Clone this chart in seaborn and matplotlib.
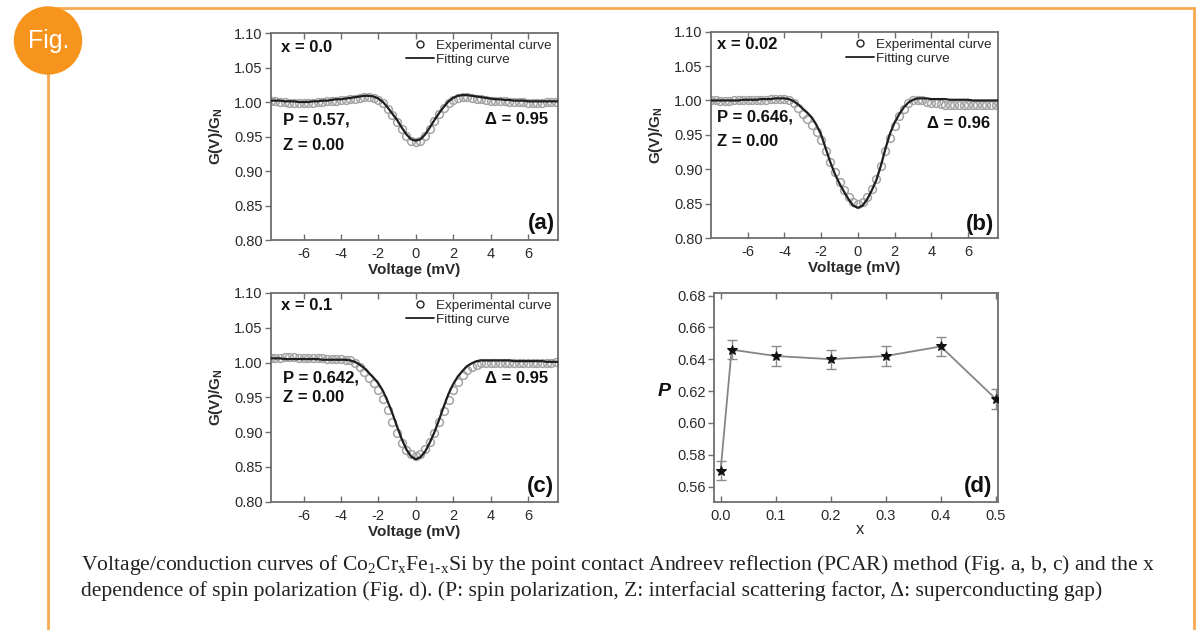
import numpy as np
import matplotlib
matplotlib.use("Agg")
import matplotlib.pyplot as plt
import seaborn as sns
from matplotlib.lines import Line2D
from matplotlib.patches import Circle

sns.set_theme(style="ticks")
plt.rcParams['font.family'] = ['Liberation Sans', 'DejaVu Sans']
plt.rcParams['mathtext.default'] = 'regular'
plt.rcParams['axes.unicode_minus'] = False

# bias voltage grid (mV), -8.0 ... 7.75
voltage = np.arange(-8.0, 7.76, 0.25)

# panel (a): x = 0.0
exp_a = [1.001, 1.001, 1.001, 1.000, 1.000, 0.999, 0.999, 0.999,
         0.999, 0.999, 0.999, 1.000, 1.000, 1.001, 1.001, 1.002,
         1.003, 1.003, 1.004, 1.005, 1.006, 1.007, 1.007, 1.006,
         1.003, 0.998, 0.990, 0.981, 0.971, 0.961, 0.951, 0.944,
         0.942, 0.944, 0.951, 0.961, 0.972, 0.982, 0.991, 0.998,
         1.003, 1.006, 1.007, 1.007, 1.006, 1.005, 1.004, 1.003,
         1.002, 1.002, 1.001, 1.001, 1.000, 1.000, 1.000, 1.000,
         0.999, 0.999, 0.999, 0.999, 1.000, 1.000, 1.000, 1.000]
fit_a = [1.002, 1.002, 1.002, 1.002, 1.001, 1.001, 1.001, 1.000,
         1.000, 1.000, 1.001, 1.001, 1.002, 1.002, 1.003, 1.004,
         1.004, 1.005, 1.006, 1.007, 1.008, 1.009, 1.009, 1.008,
         1.005, 1.000, 0.992, 0.983, 0.974, 0.963, 0.953, 0.946,
         0.944, 0.946, 0.953, 0.963, 0.974, 0.984, 0.993, 1.001,
         1.006, 1.009, 1.010, 1.010, 1.009, 1.008, 1.007, 1.006,
         1.005, 1.004, 1.004, 1.003, 1.003, 1.002, 1.002, 1.002,
         1.001, 1.001, 1.001, 1.001, 1.001, 1.001, 1.001, 1.001]

# panel (b): x = 0.02
exp_b = [1.000, 1.000, 0.999, 0.999, 0.999, 1.000, 1.000, 1.000,
         1.000, 1.001, 1.001, 1.001, 1.001, 1.002, 1.002, 1.002,
         1.002, 1.000, 0.996, 0.989, 0.981, 0.973, 0.964, 0.954,
         0.942, 0.927, 0.911, 0.896, 0.882, 0.870, 0.860, 0.853,
         0.850, 0.852, 0.859, 0.871, 0.886, 0.905, 0.926, 0.946,
         0.963, 0.977, 0.988, 0.996, 1.000, 1.001, 1.000, 0.998,
         0.997, 0.996, 0.995, 0.994, 0.994, 0.993, 0.993, 0.993,
         0.993, 0.993, 0.993, 0.993, 0.993, 0.993, 0.993, 0.993]
fit_b = [1.000, 1.000, 1.000, 1.000, 1.000, 1.000, 1.000, 1.001,
         1.001, 1.001, 1.001, 1.002, 1.002, 1.002, 1.003, 1.003,
         1.003, 1.002, 0.999, 0.994, 0.988, 0.982, 0.975, 0.964,
         0.950, 0.930, 0.910, 0.893, 0.879, 0.867, 0.856, 0.847,
         0.844, 0.847, 0.856, 0.869, 0.884, 0.905, 0.930, 0.952,
         0.968, 0.980, 0.990, 0.997, 1.001, 1.003, 1.003, 1.003,
         1.002, 1.002, 1.002, 1.002, 1.001, 1.001, 1.001, 1.001,
         1.001, 1.000, 1.000, 1.000, 1.000, 1.000, 1.000, 1.000]

# panel (c): x = 0.1
exp_c = [1.007, 1.007, 1.007, 1.007, 1.008, 1.008, 1.008, 1.007,
         1.007, 1.007, 1.006, 1.006, 1.006, 1.005, 1.005, 1.005,
         1.005, 1.004, 1.003, 0.999, 0.993, 0.986, 0.978, 0.970,
         0.960, 0.947, 0.932, 0.915, 0.899, 0.885, 0.874, 0.868,
         0.866, 0.868, 0.875, 0.886, 0.899, 0.914, 0.930, 0.946,
         0.960, 0.972, 0.982, 0.989, 0.994, 0.997, 0.999, 1.000,
         1.000, 1.000, 1.000, 1.000, 1.000, 0.999, 0.999, 0.999,
         0.999, 0.999, 1.000, 1.000, 1.000, 1.000, 1.001, 1.001]
fit_c = [1.006, 1.006, 1.006, 1.006, 1.005, 1.005, 1.005, 1.005,
         1.005, 1.005, 1.005, 1.005, 1.004, 1.004, 1.004, 1.004,
         1.004, 1.004, 1.003, 1.001, 0.997, 0.992, 0.985, 0.978,
         0.970, 0.959, 0.944, 0.927, 0.908, 0.890, 0.875, 0.865,
         0.861, 0.864, 0.872, 0.885, 0.900, 0.918, 0.937, 0.955,
         0.969, 0.980, 0.988, 0.995, 0.999, 1.002, 1.003, 1.003,
         1.003, 1.003, 1.003, 1.003, 1.003, 1.002, 1.002, 1.002,
         1.002, 1.002, 1.002, 1.002, 1.001, 1.001, 1.001, 1.001]

# panel (d): spin polarization vs x
x_frac = [0.0, 0.02, 0.1, 0.2, 0.3, 0.4, 0.5]
p_val = [0.570, 0.646, 0.642, 0.640, 0.642, 0.648, 0.615]
p_err = [0.006, 0.006, 0.006, 0.006, 0.006, 0.006, 0.006]

v_ticks = [-6, -4, -2, 0, 2, 4, 6]
g_ticks = [0.80, 0.85, 0.90, 0.95, 1.00, 1.05, 1.10]
x_ticks = [0.0, 0.1, 0.2, 0.3, 0.4, 0.5]
p_ticks = [0.56, 0.58, 0.60, 0.62, 0.64, 0.66, 0.68]

SPINE = '#6e6e6e'
TXT = '#2a2a2a'

fig = plt.figure(figsize=(12.01, 6.30), dpi=100)
fig.patch.set_facecolor('white')


def style_axes(ax):
    ax.set_facecolor('white')
    for s in ax.spines.values():
        s.set_visible(True)
        s.set_color(SPINE)
        s.set_linewidth(1.3)
    ax.tick_params(axis='x', direction='in', top=True, length=4, width=1,
                   color=SPINE, labelsize=10.5, labelcolor=TXT, pad=5)
    ax.tick_params(axis='y', direction='out', length=4, width=1,
                   color=SPINE, labelsize=10.5, labelcolor=TXT, pad=2)
    ax.grid(False)


def curve_panel(rect, exp, fit, xlim, tag, xtxt, ptxt, dtxt, pos):
    ax = fig.add_axes(rect)
    sns.lineplot(x=voltage, y=exp, ax=ax, marker='o', linestyle='none',
                 mfc='none', mec='#a4a4a4', ms=5.6, mew=1.1, zorder=2)
    sns.lineplot(x=voltage, y=fit, ax=ax, color='#1e1e1e', lw=1.6, zorder=3)
    ax.set_xlim(*xlim)
    ax.set_ylim(0.80, 1.10)
    ax.set_xticks(v_ticks)
    ax.set_yticks(g_ticks)
    ax.set_yticklabels([f'{t:.2f}' for t in g_ticks])
    style_axes(ax)
    ax.set_xlabel('Voltage (mV)', fontsize=11, fontweight='bold', color=TXT)
    ax.xaxis.set_label_coords(0.5, -0.113)
    ax.set_ylabel('G(V)/G$_N$', fontsize=11, fontweight='bold', color=TXT)
    ax.yaxis.set_label_coords(-0.16, 0.5)
    handles = [Line2D([], [], marker='o', ls='none', mfc='none', mec='#222',
                      ms=5, mew=1.0),
               Line2D([], [], color='#1e1e1e', lw=1.3)]
    ax.legend(handles, ['Experimental curve', 'Fitting curve'],
              loc='upper right', bbox_to_anchor=(1.0, 1.0), frameon=False,
              fontsize=9.7, handlelength=2.1, handletextpad=0.1,
              labelspacing=0.1, borderaxespad=0.1)
    bold = dict(fontsize=12, fontweight='bold', color='#111',
                transform=ax.transAxes, va='center')
    ax.text(pos[0], pos[1], xtxt, ha='left', **bold)
    ax.text(pos[2], pos[3], ptxt, ha='left', **bold)
    ax.text(pos[2], pos[4], 'Z = 0.00', ha='left', **bold)
    ax.text(pos[5], pos[6], dtxt, ha='right', **bold)
    ax.text(pos[7], pos[8], tag, ha='right', va='center', fontsize=16,
            fontweight='bold', color='#111', transform=ax.transAxes)
    return ax


curve_panel([0.2256, 0.619, 0.239, 0.3286], exp_a, fit_a, (-7.74, 7.6), '(a)',
            'x = 0.0', 'P = 0.57,', '\u0394 = 0.95',
            (0.035, 0.932, 0.042, 0.58, 0.459, 0.965, 0.58, 0.99, 0.082))
curve_panel([0.592, 0.6222, 0.239, 0.3275], exp_b, fit_b, (-8.0, 7.63), '(b)',
            'x = 0.02', 'P = 0.646,', '\u0394 = 0.96',
            (0.021, 0.937, 0.021, 0.585, 0.47, 0.972, 0.553, 0.985, 0.065))
curve_panel([0.2256, 0.2037, 0.239, 0.3313], exp_c, fit_c, (-7.74, 7.6), '(c)',
            'x = 0.1', 'P = 0.642,', '\u0394 = 0.95',
            (0.035, 0.942, 0.042, 0.593, 0.497, 0.965, 0.588, 0.985, 0.075))

# panel (d)
axd = fig.add_axes([0.5945, 0.2037, 0.2365, 0.331])
sns.lineplot(x=x_frac, y=p_val, ax=axd, color='#858585', lw=1.3, marker='*',
             ms=7, mfc='#111', mec='#111', zorder=3)
axd.errorbar(x_frac, p_val, yerr=p_err, fmt='none', ecolor='#8c8c8c',
             elinewidth=1.0, capsize=3.5, capthick=1.0, zorder=2)
axd.set_xlim(-0.012, 0.504)
axd.set_ylim(0.5505, 0.6815)
axd.set_xticks(x_ticks)
axd.set_xticklabels([f'{t:.1f}' for t in x_ticks])
axd.set_yticks(p_ticks)
axd.set_yticklabels([f'{t:.2f}' for t in p_ticks])
style_axes(axd)
axd.set_xlabel('x', fontsize=12, color=TXT)
axd.xaxis.set_label_coords(0.514, -0.098)
axd.set_ylabel('P', fontsize=14, fontweight='bold', fontstyle='italic',
               rotation=0, color='#111', va='center', ha='center')
axd.yaxis.set_label_coords(-0.175, 0.53)
axd.text(0.98, 0.075, '(d)', ha='right', va='center', fontsize=16,
         fontweight='bold', color='#111', transform=axd.transAxes)

# frame, badge and caption in pixel coordinates
deco = fig.add_axes([0, 0, 1, 1], zorder=-1)
deco.set_xlim(0, 1201)
deco.set_ylim(630, 0)
deco.axis('off')
ORANGE = '#f7941d'
LINE_OR = '#f8a94f'
deco.plot([48, 1194], [8, 8], color=LINE_OR, lw=2)
deco.plot([1194, 1194], [8, 630], color=LINE_OR, lw=2)
deco.plot([48, 48], [40, 630], color=LINE_OR, lw=2)
deco.add_patch(Circle((48, 40.5), 33.5, color=ORANGE, zorder=5))
deco.text(49, 41, 'Fig.', color='white', fontsize=18, ha='center',
          va='center', zorder=6)

cap_kw = dict(fontfamily='Liberation Serif', fontsize=15.6, color='#222',
              ha='left', va='center')
deco.text(81, 565, 'Voltage/conduction curves of Co$_2$Cr$_x$Fe$_{1\\text{-}x}$Si '
          'by the point contact Andreev reflection (PCAR) method '
          '(Fig. a, b, c) and the x', **cap_kw)
deco.text(81, 591, 'dependence of spin polarization (Fig. d). (P: spin '
          'polarization, Z: interfacial scattering factor, \u0394: '
          'superconducting gap)', **cap_kw)

fig.savefig('out.png', dpi=100)
